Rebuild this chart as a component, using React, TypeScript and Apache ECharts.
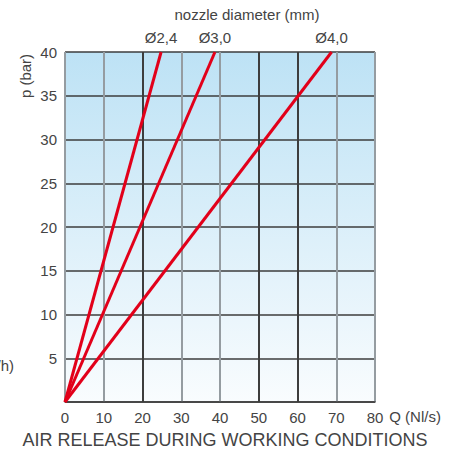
import React, { useEffect, useRef } from "react";
import * as echarts from "echarts";

const nozzles = ["Ø2,4", "Ø3,0", "Ø4,0"];
const flowAt40 = [24.8, 38.7, 68.8];
const pressureMax = [40, 40, 40];
const xTicks = [0, 10, 20, 30, 40, 50, 60, 70, 80];
const yTicks = [0, 5, 10, 15, 20, 25, 30, 35, 40];
const xGridColors = ["#959ca1", "#959ca1", "#3d3d3d", "#959ca1", "#959ca1", "#3d3d3d", "#3d3d3d", "#959ca1", "#959ca1"];

const FONT = "Liberation Sans, Arial, Helvetica, sans-serif";
const TXT = "#444";

export default function App() {
  const ref = useRef<HTMLDivElement>(null);
  useEffect(() => {
    if (!ref.current) return;
    const chart = echarts.init(ref.current, null, { renderer: "svg" });
    const series = nozzles.map((name, i) => ({
      type: "line",
      name,
      symbol: "circle",
      symbolSize: 0,
      showSymbol: true,
      lineStyle: { color: "#e2001a", width: 3 },
      itemStyle: { color: "#e2001a" },
      z: 5,
      data: [
        { value: [0, 0] },
        {
          value: [flowAt40[i], pressureMax[i]],
          label: {
            show: true,
            position: "top",
            distance: 7,
            formatter: name,
            fontFamily: FONT,
            fontSize: 15,
            color: TXT,
          },
        },
      ],
    }));
    chart.setOption({
      animation: false,
      textStyle: { fontFamily: FONT },
      grid: {
        left: 65,
        right: 79,
        top: 52,
        bottom: 50,
        show: true,
        borderWidth: 0,
        backgroundColor: new echarts.graphic.LinearGradient(0, 0, 0, 1, [
          { offset: 0, color: "#bde2f5" },
          { offset: 1, color: "#f9fcfe" },
        ]),
      },
      xAxis: {
        type: "value",
        min: xTicks[0],
        max: xTicks[xTicks.length - 1],
        interval: 10,
        name: "Q (Nl/s)",
        nameLocation: "end",
        nameGap: 6,
        nameTextStyle: { fontSize: 15, color: TXT, fontFamily: FONT, verticalAlign: "top", padding: [7, 0, 0, 0] },
        axisLine: { show: true, lineStyle: { color: "#3d3d3d", width: 1.5 } },
        axisTick: { show: false },
        axisLabel: { fontSize: 15, color: TXT, margin: 8, fontFamily: FONT },
        splitLine: { show: true, showMinLine: true, showMaxLine: true, lineStyle: { color: xGridColors, width: 2 } },
      },
      yAxis: {
        type: "value",
        min: yTicks[0],
        max: yTicks[yTicks.length - 1],
        interval: 5,
        axisLine: { show: false },
        axisTick: { show: false },
        axisLabel: {
          fontSize: 15,
          color: TXT,
          margin: 8,
          fontFamily: FONT,
          formatter: (v: number) => (v === 0 ? "" : String(v)),
        },
        splitLine: { show: true, lineStyle: { color: "#3d3d3d", width: 1.5 } },
      },
      graphic: [
        {
          type: "text",
          x: 247,
          y: 14,
          style: { text: "nozzle diameter (mm)", font: `15px ${FONT}`, fill: TXT, textAlign: "center", textVerticalAlign: "middle" },
        },
        {
          type: "text",
          x: 25,
          y: 76,
          rotation: Math.PI / 2,
          style: { text: "p (bar)", font: `15px ${FONT}`, fill: TXT, textAlign: "center", textVerticalAlign: "middle" },
        },
        {
          type: "text",
          x: 14,
          y: 365,
          style: { text: "(Nm³/h)", font: `15px ${FONT}`, fill: TXT, textAlign: "right", textVerticalAlign: "middle" },
        },
        {
          type: "text",
          x: 225,
          y: 440,
          style: {
            text: "AIR RELEASE DURING WORKING CONDITIONS",
            font: `18px ${FONT}`,
            fill: TXT,
            textAlign: "center",
            textVerticalAlign: "middle",
          },
        },
      ],
      series,
    });
    return () => chart.dispose();
  }, []);
  return (
    <div
      ref={ref}
      style={{ position: "absolute", left: 0, top: 0, width: 454, height: 452, background: "#fff" }}
    />
  );
}
